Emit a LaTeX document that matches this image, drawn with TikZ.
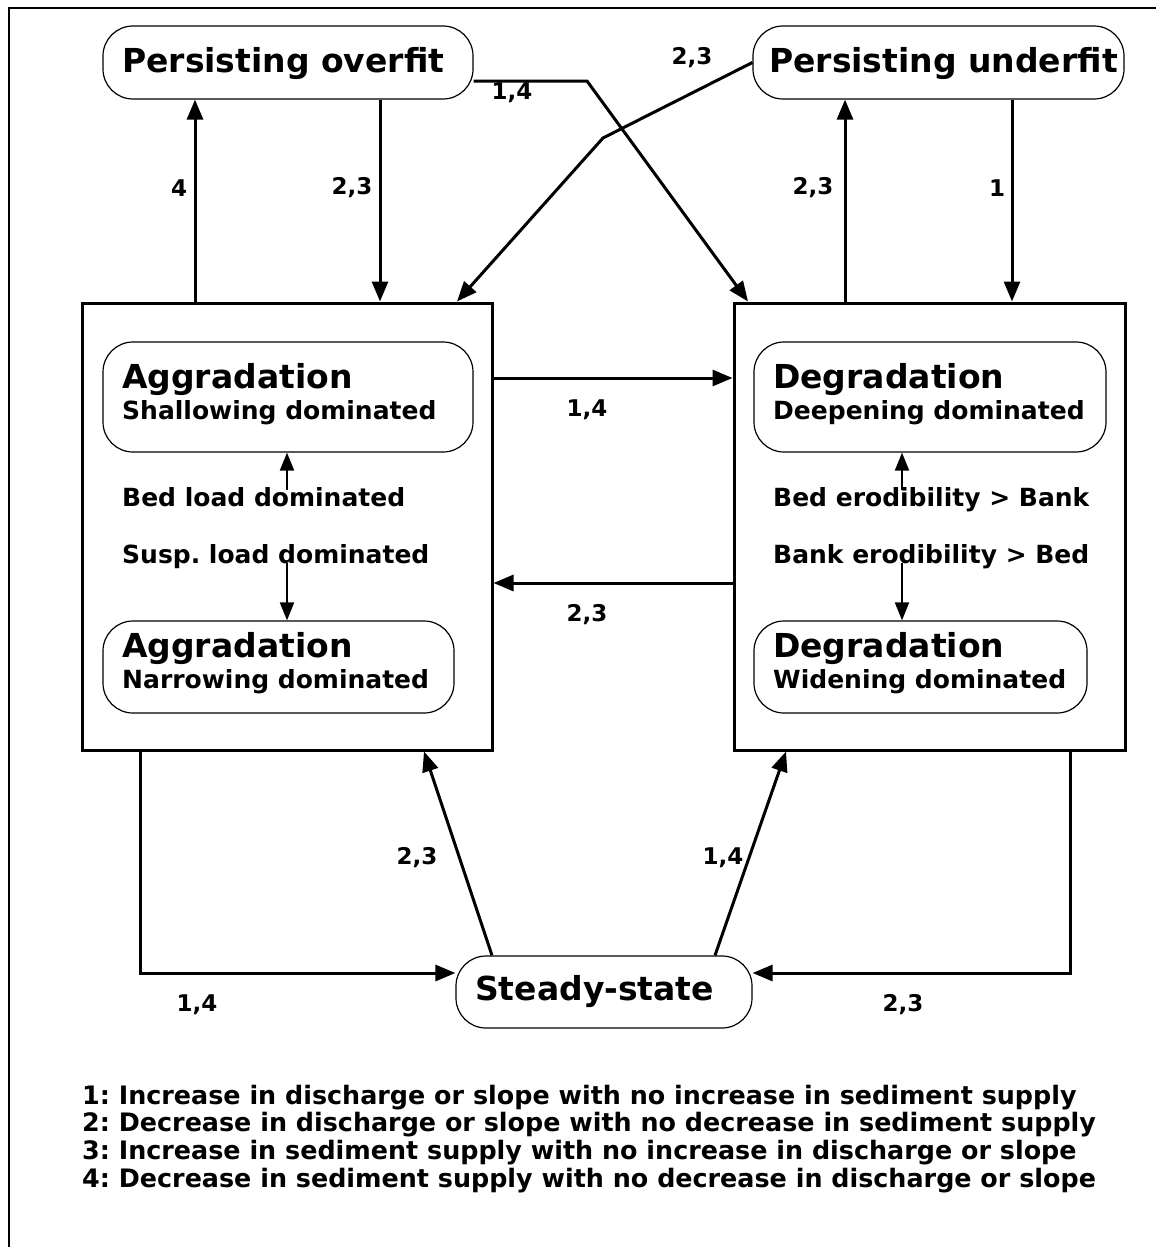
\documentclass[tikz,border=0pt]{standalone}
\usepackage{fontspec}
\setmainfont{DejaVu Sans}
\usetikzlibrary{arrows.meta}
\frenchspacing
\begin{document}
\begin{tikzpicture}[x=1pt,y=-1pt,
  bigbox/.style={draw,line width=3pt,inner sep=0pt},
  rbox/.style={draw,line width=1.2pt,rounded corners=30pt,inner sep=0pt},
  ttl/.style={font=\fontsize{33}{36}\selectfont\bfseries,anchor=base west,inner sep=0pt},
  sub/.style={font=\fontsize{25}{30}\selectfont\bfseries,anchor=base west,inner sep=0pt},
  lab/.style={font=\fontsize{23}{26}\selectfont\bfseries,inner sep=0pt},
  leg/.style={font=\fontsize{25.4}{28}\selectfont\bfseries,anchor=base west,inner sep=0pt},
  conn/.style={line width=3pt,-{Triangle[length=20pt,width=16pt]}},
  inconn/.style={line width=2pt,-{Triangle[length=18pt,width=14pt]}}]
\useasboundingbox (0,0) rectangle (1156,1247);
% frame
\draw[line width=2pt] (9,1247) -- (9,8) -- (1156,8);
% big boxes
\node[bigbox,minimum width=410pt,minimum height=447pt] (L) at (287,526.5) {};
\node[bigbox,minimum width=391pt,minimum height=447pt] (R) at (929.5,526.5) {};
% rounded boxes
\node[rbox,minimum width=370pt,minimum height=73pt] (PO) at (288,62.5) {};
\node[rbox,minimum width=371pt,minimum height=73pt] (PU) at (938.5,62.5) {};
\node[rbox,minimum width=370pt,minimum height=110pt] (AS) at (288,397) {};
\node[rbox,minimum width=351pt,minimum height=92pt] (AN) at (278.5,667) {};
\node[rbox,minimum width=352pt,minimum height=110pt] (DD) at (930,397) {};
\node[rbox,minimum width=333pt,minimum height=92pt] (DW) at (920.5,667) {};
\node[rbox,minimum width=296pt,minimum height=72pt] (S) at (604,992) {};
% texts
\node[ttl] (tPO) at (122,72) {Persisting overfit};
\node[ttl] (tPU) at (769,72) {Persisting underfit};
\node[ttl] (tAS) at (122,388) {Aggradation};
\node[sub] (sAS) at (122,419) {Shallowing dominated};
\node[ttl] (tAN) at (122,657) {Aggradation};
\node[sub] (sAN) at (122,688) {Narrowing dominated};
\node[sub] (bl) at (122,506) {Bed load dominated};
\node[sub] (sl) at (122,563) {Susp. load dominated};
\node[ttl] (tDD) at (773,388) {Degradation};
\node[sub] (sDD) at (773,419) {Deepening dominated};
\node[ttl] (tDW) at (773,657) {Degradation};
\node[sub] (sDW) at (773,688) {Widening dominated};
\node[sub] (be) at (773,506) {Bed erodibility > Bank};
\node[sub] (ke) at (773,563) {Bank erodibility > Bed};
\node[ttl] (tS) at (475,1000) {Steady-state};
% helper coordinates
\coordinate (x195) at (195,0);
\coordinate (x380) at (380,0);
\coordinate (x748) at (748,0);
\coordinate (x457) at (457,0);
\coordinate (x845) at (845,0);
\coordinate (x1012) at (1012,0);
\coordinate (y378) at (0,378);
\coordinate (y583) at (0,583);
\coordinate (x140) at (140,0);
\coordinate (x1070) at (1070,0);
\coordinate (x492) at (492,0);
\coordinate (x424) at (424,0);
\coordinate (x715) at (715,0);
\coordinate (x786) at (786,0);
\coordinate (x287) at (287,0);
\coordinate (x902) at (902,0);
\coordinate (bend1) at (587,81);
\coordinate (bend2) at (603,138);
\coordinate (ia1) at (287,490);
\coordinate (ia2) at (287,563);
\coordinate (ib1) at (902,490);
\coordinate (ib2) at (902,563);
% connectors
\draw[conn] (L.north -| x195) -- (PO.south -| x195);
\draw[conn] (PO.south -| x380) -- (L.north -| x380);
\draw[conn] ([yshift=-18.5pt]PO.east) -- (bend1) -- (R.north -| x748);
\draw[conn] (PU.west) -- (bend2) -- (L.north -| x457);
\draw[conn] (R.north -| x845) -- (PU.south -| x845);
\draw[conn] (PU.south -| x1012) -- (R.north -| x1012);
\draw[conn] (L.east |- y378) -- (R.west |- y378);
\draw[conn] (R.west |- y583) -- (L.east |- y583);
\draw[conn] (L.south -| x140) |- ([yshift=19pt]S.west);
\draw[conn] (R.south -| x1070) |- ([yshift=19pt]S.east);
\draw[conn] (S.north -| x492) -- (L.south -| x424);
\draw[conn] (S.north -| x715) -- (R.south -| x786);
\draw[inconn] (ia1) -- (AS.south -| x287);
\draw[inconn] (ia2) -- (AN.north -| x287);
\draw[inconn] (ib1) -- (DD.south -| x902);
\draw[inconn] (ib2) -- (DW.north -| x902);
% labels
\node[lab] (l1) at (179,188) {4};
\node[lab] (l2) at (352,188) {2,3};
\node[lab] (l3) at (512,93) {1,4};
\node[lab] (l4) at (692,58) {2,3};
\node[lab] (l5) at (813,188) {2,3};
\node[lab] (l6) at (997,188) {1};
\node[lab] (l7) at (587,410) {1,4};
\node[lab] (l8) at (587,615) {2,3};
\node[lab] (l9) at (417,858) {2,3};
\node[lab] (l10) at (723,858) {1,4};
\node[lab] (l11) at (197,1005) {1,4};
\node[lab] (l12) at (903,1005) {2,3};
% legend
\node[leg] (g1) at (82,1104) {1: Increase in discharge or slope with no increase in sediment supply};
\node[leg] (g2) at (82,1131.7) {2: Decrease in discharge or slope with no decrease in sediment supply};
\node[leg] (g3) at (82,1159.4) {3: Increase in sediment supply with no increase in discharge or slope};
\node[leg] (g4) at (82,1187) {4: Decrease in sediment supply with no decrease in discharge or slope};
\end{tikzpicture}
\end{document}
